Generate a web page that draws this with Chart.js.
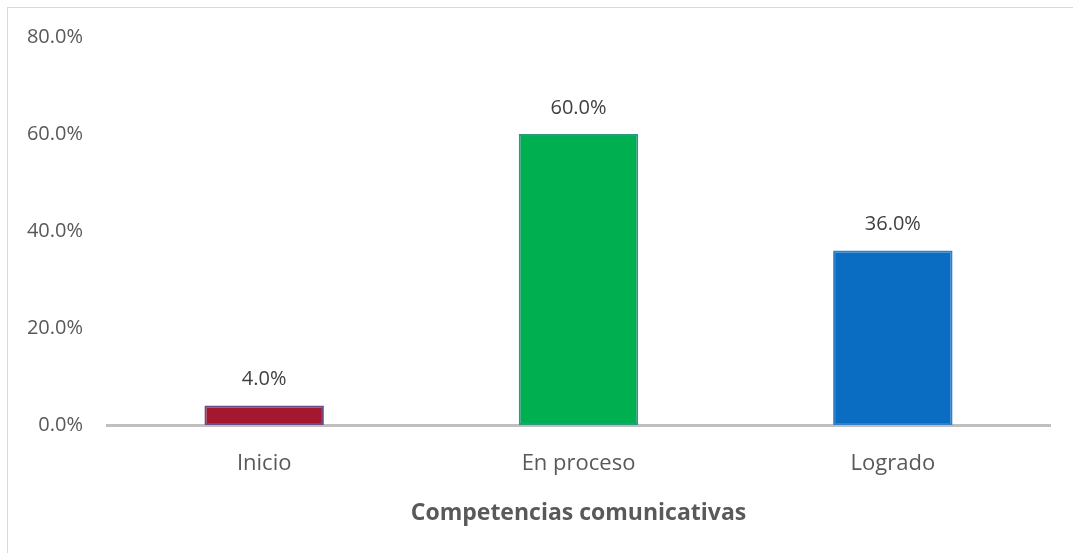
<!DOCTYPE html>
<html>
<head>
<meta charset="utf-8">
<script src="https://cdn.jsdelivr.net/npm/chart.js@4/dist/chart.umd.min.js"></script>
<style>
  html, body { margin: 0; padding: 0; background: #fff; }
  .wrap { position: relative; width: 1073px; height: 553px; }
  .frame { position: absolute; left: 7px; top: 7px; right: -2px; bottom: -2px; border: 1px solid #d9d9d9; }
  canvas { position: absolute; left: 0; top: 0; }
</style>
</head>
<body>
<div class="wrap">
  <div class="frame"></div>
  <canvas id="chart" width="1073" height="553"></canvas>
</div>
<script>
const categories = ['Inicio', 'En proceso', 'Logrado'];
const values = [4.0, 60.0, 36.0];
const barColors = ['#A3182F', '#00B050', '#0A6DC2'];
const edgeColors = ['#6C4A86', '#2C9A7E', '#2F7FCB'];
const yTicks = [0, 20, 40, 60, 80];
const xTitle = 'Competencias comunicativas';

const fontFamily = '"Open Sans", "Liberation Sans", sans-serif';

const valueLabels = {
  id: 'valueLabels',
  afterDatasetsDraw(chart) {
    const ctx = chart.ctx;
    const meta = chart.getDatasetMeta(0);
    ctx.save();
    ctx.font = '20px ' + fontFamily;
    ctx.fillStyle = '#404040';
    ctx.textAlign = 'center';
    ctx.textBaseline = 'middle';
    meta.data.forEach((bar, i) => {
      ctx.fillText(values[i].toFixed(1) + '%', bar.x, bar.y - 26);
    });
    ctx.restore();
  }
};

new Chart(document.getElementById('chart').getContext('2d'), {
  type: 'bar',
  data: {
    labels: categories,
    datasets: [{
      data: values,
      backgroundColor: barColors,
      borderColor: edgeColors,
      borderWidth: 2,
      borderSkipped: false,
      barPercentage: 0.38,
      categoryPercentage: 1
    }]
  },
  options: {
    responsive: false,
    animation: false,
    layout: { padding: { top: 37, right: 23, left: 0, bottom: 0 } },
    plugins: {
      legend: { display: false },
      tooltip: { enabled: false }
    },
    scales: {
      x: {
        grid: { display: true, color: 'transparent', drawTicks: false },
        border: { display: true, color: '#bfbfbf', width: 3 },
        ticks: { color: '#595959', font: { family: fontFamily, size: 22 }, padding: 26 },
        title: {
          display: true,
          text: xTitle,
          color: '#595959',
          font: { family: fontFamily, size: 23, weight: 'bold' },
          padding: { top: 0, bottom: 26 }
        },
        afterFit(scale) { scale.height = 128; }
      },
      y: {
        min: 0,
        max: 80,
        grid: { display: false, drawTicks: false },
        border: { display: false },
        afterBuildTicks(scale) { scale.ticks = yTicks.map(v => ({ value: v })); },
        ticks: {
          color: '#595959',
          font: { family: fontFamily, size: 20 },
          padding: 24,
          callback: v => v.toFixed(1) + '%'
        },
        afterFit(scale) { scale.width = 107; }
      }
    }
  },
  plugins: [valueLabels]
});
</script>
</body>
</html>
